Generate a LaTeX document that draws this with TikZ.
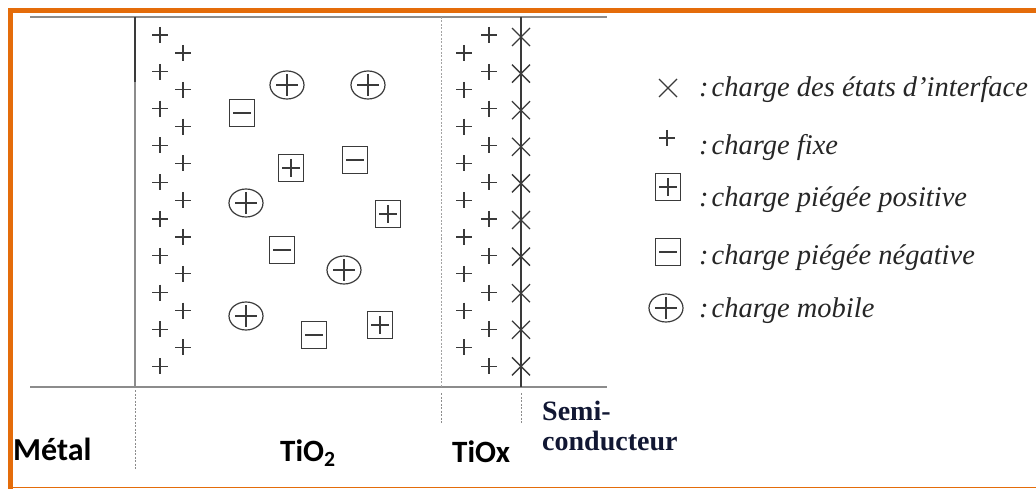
\documentclass[tikz,border=0pt]{standalone}
\usepackage{fontspec}
\usepackage{xcolor}
\usepackage{tikz}
\usetikzlibrary{
  positioning,
  calc
}
\newfontfamily\labelfont{Carlito}
\newfontfamily\legendfont{Liberation Serif}
\definecolor{cadre}{HTML}{E46C0A}
\definecolor{trait}{HTML}{8C8C8C}
\definecolor{encre}{HTML}{3A3A3A}
\definecolor{marine}{HTML}{111733}

\begin{document}
\begin{tikzpicture}[x=1pt,y=-1pt,
  couche/.style={trait,line width=2.2pt},
  pointille/.style={trait,line width=0.8pt,dash pattern=on 2pt off 1.5pt},
  etiquette/.style={inner sep=0pt,anchor=base west,font=\labelfont\bfseries\fontsize{32}{36}\selectfont},
  legende/.style={inner sep=0pt,anchor=base west,text=black!85,font=\legendfont\itshape\fontsize{28.5}{30}\selectfont},
  pics/fixe/.style={code={\draw[encre,line width=1.3pt] (-8,0)--(8,0) (0,-8)--(0,8);}},
  pics/etat/.style={code={\draw[encre,line width=1.3pt] (-9,-9)--(9,9) (-9,9)--(9,-9);}},
  pics/piegeplus/.style={code={
    \draw[encre,line width=1.4pt] (-12.5,-13.5) rectangle (12.5,13.5);
    \draw[encre,line width=1.2pt] (-9,0)--(9,0) (0,-9)--(0,9);}},
  pics/piegemoins/.style={code={
    \draw[encre,line width=1.4pt] (-12.5,-13.5) rectangle (12.5,13.5);
    \draw[encre,line width=1.6pt] (-9,0)--(9,0);}},
  pics/mobile/.style={code={
    \draw[encre,line width=1.2pt] (0,0) ellipse [x radius=17,y radius=14];
    \draw[encre,line width=1.2pt] (-11,0)--(11,0) (0,-11)--(0,11);}}
]
  \useasboundingbox (0,0) rectangle (1036,489);

  % cadre orange
  \draw[cadre,line width=5pt] (10.5,489) -- (10.5,10.5) -- (1036,10.5);
  \draw[cadre,line width=1.5pt] (10.5,487.5) -- (1036,487.5);

  % limites des couches
  \draw[couche] (30,17) -- (607,17);
  \draw[couche] (30,387) -- (607,387);
  \draw[trait,line width=1.5pt] (135,17) -- (135,387);
  \draw[encre,line width=1.5pt] (135,17) -- (135,82);
  \draw[pointille] (135,390) -- (135,470);
  \draw[pointille,trait!80] (441,17) -- (441,387);
  \draw[pointille] (441,393) -- (441,423);
  \draw[encre,line width=1.5pt] (521,17) -- (521,387);
  \draw[pointille] (521,393) -- (521,423);

  % charges fixes et etats d'interface
  \foreach \i in {0,...,9} {
    \pic at (160,35+36.8*\i) {fixe};
    \pic at (489,35+36.8*\i) {fixe};
    \pic at (521,37+36.6*\i) {etat};
  }
  \foreach \i in {0,...,8} {
    \pic at (183,53+36.8*\i) {fixe};
    \pic at (464,53+36.8*\i) {fixe};
  }

  % charges dans le TiO2
  \pic (m1) at (287,85) {mobile};
  \pic (m2) at (368,85) {mobile};
  \pic (m3) at (246,203) {mobile};
  \pic (m4) at (344,270) {mobile};
  \pic (m5) at (246,316) {mobile};
  \pic (n1) at (242,113) {piegemoins};
  \pic (n2) at (355,160) {piegemoins};
  \pic (n3) at (282,250) {piegemoins};
  \pic (n4) at (314,335) {piegemoins};
  \pic (p1) at (291,168) {piegeplus};
  \pic (p2) at (388,214) {piegeplus};
  \pic (p3) at (380,325) {piegeplus};

  % legende
  \pic[gray] (s1) at (668,88) {etat};
  \pic (s2) at (667,138) {fixe};
  \pic (s3) at (668,187) {piegeplus};
  \pic (s4) at (668,252) {piegemoins};
  \pic (s5) at (666,308) {mobile};
  \node[legende] (l1) at (699,97) {:\hspace{3pt}charge des états d’interface};
  \node[legende] (l2) at (699,155) {:\hspace{3pt}charge fixe};
  \node[legende] (l3) at (699,207) {:\hspace{3pt}charge piégée positive};
  \node[legende] (l4) at (699,265) {:\hspace{3pt}charge piégée négative};
  \node[legende] (l5) at (699,317) {:\hspace{3pt}charge mobile};

  % noms des couches
  \node[etiquette] (metal) at (13,460) {Métal};
  \node[etiquette,font=\labelfont\bfseries\fontsize{31}{36}\selectfont] (tio2) at (280,461) {TiO\textsubscript{2}};
  \node[etiquette,font=\labelfont\bfseries\fontsize{31}{36}\selectfont] (tiox) at (452,462) {TiOx};
  \node[inner sep=0pt,anchor=base west,align=left,text=marine,
    font=\legendfont\bfseries\fontsize{28}{30}\selectfont] (sc) at (542,450) {Semi-\\conducteur};
\end{tikzpicture}
\end{document}
